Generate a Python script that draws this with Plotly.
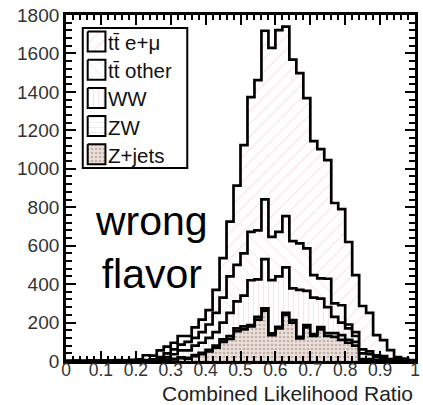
import numpy as np
import plotly.graph_objects as go

# Histogram binning: 50 bins of width 0.02 on [0, 1]
bin_edges = np.round(np.arange(0, 1.0001, 0.02), 2)

# Expected events per bin for each process (stacked bottom to top: Z+jets, ZW, WW, tt other, tt e+mu)
z_jets = [0, 0, 0, 0, 0, 0, 0, 0, 0, 0,
          0, 0, 0, 3, 5, 8, 15, 12, 25, 35,
          50, 70, 100, 115, 155, 165, 180, 215, 262, 135,
          170, 240, 200, 118, 175, 130, 165, 130, 125, 110,
          95, 80, 0, 0, 0, 0, 0, 0, 0, 0]
zw = [0, 0, 0, 0, 0, 0, 0, 0, 0, 0,
      0, 0, 0, 1, 2, 3, 4, 5, 6, 8,
      8, 10, 12, 15, 15, 15, 7, 15, 12, 9,
      8, 11, 13, 8, 12, 10, 12, 15, 20, 25,
      15, 20, 10, 10, 5, 4, 2, 2, 1, 0]
ww = [0, 0, 0, 0, 0, 0, 0, 0, 0, 0,
      0, 2, 4, 6, 13, 24, 36, 38, 49, 52,
      62, 70, 88, 120, 140, 160, 233, 195, 256, 277,
      262, 236, 165, 244, 178, 190, 148, 135, 85, 65,
      60, 30, 30, 25, 15, 11, 6, 3, 2, 1]
tt_other = [0, 0, 0, 0, 0, 0, 0, 0, 0, 0,
            0, 3, 4, 10, 20, 25, 30, 45, 40, 55,
            70, 100, 130, 190, 190, 220, 252, 255, 311, 225,
            232, 267, 246, 242, 221, 117, 105, 148, 70, 90,
            20, 20, 20, 15, 10, 10, 2, 3, 2, 1]
tt_emu = [0, 2, 0, 3, 2, 4, 2, 5, 4, 6,
          8, 25, 20, 35, 35, 35, 45, 30, 55, 65,
          75, 120, 205, 285, 412, 563, 701, 781, 877, 983,
          1049, 986, 944, 886, 782, 697, 672, 617, 522, 500,
          429, 297, 226, 200, 105, 84, 47, 12, 7, 3]

# Legend labels and fill styles, bottom of the stack first
processes = [
    ("Z+jets", z_jets, dict(shape=".", fgcolor="#9c847a", bgcolor="#ebdfda", size=4, solidity=0.35)),
    ("ZW", zw, dict(shape="-", fgcolor="#e4d8d8", bgcolor="white", size=5, solidity=0.2)),
    ("WW", ww, dict(shape="|", fgcolor="#e6d2d4", bgcolor="white", size=5, solidity=0.22)),
    ("tt\u0304 other", tt_other, dict(shape="\\", fgcolor="#ecd0d2", bgcolor="white", size=9, solidity=0.12)),
    ("tt\u0304 e+\u03bc", tt_emu, dict(shape="/", fgcolor="#f2bcc4", bgcolor="white", size=9, solidity=0.12)),
]

FONT = "Liberation Sans, Arial, Helvetica, sans-serif"
W, H = 423, 405
M_L, M_R, M_T, M_B = 66, 3, 15, 44

fig = go.Figure()

running = np.zeros(len(bin_edges) - 1)
for i, (name, counts, pattern) in enumerate(processes):
    running = running + np.asarray(counts, dtype=float)
    y_step = np.append(running, running[-1])
    fig.add_trace(go.Scatter(
        x=bin_edges, y=y_step, mode="lines", line_shape="hv",
        line=dict(color="black", width=2.7),
        fill="tozeroy" if i == 0 else "tonexty",
        fillcolor=pattern["bgcolor"],
        fillpattern=pattern,
        showlegend=False, hoverinfo="skip",
    ))

# Legend box drawn on an overlay axis measured in screen pixels
box_left, box_right, box_top, box_bottom = 83, 189, 28, 168
sw_left, sw_right, sw_h = 88, 106, 20
row0, row_step = 41.5, 28.2
fig.add_shape(type="rect", xref="x2", yref="y2", x0=box_left, x1=box_right,
              y0=box_top, y1=box_bottom, line=dict(color="black", width=2),
              fillcolor="white", layer="below")
for k, (name, counts, pattern) in enumerate(reversed(processes)):
    cy = row0 + k * row_step
    y0, y1 = cy - sw_h / 2, cy + sw_h / 2
    fig.add_trace(go.Scatter(
        x=[sw_left, sw_right, sw_right, sw_left, sw_left],
        y=[y0, y0, y1, y1, y0], xaxis="x2", yaxis="y2",
        mode="lines", fill="toself", fillcolor=pattern["bgcolor"], fillpattern=pattern,
        line=dict(color="black", width=2), showlegend=False, hoverinfo="skip",
    ))
    fig.add_annotation(x=sw_left + 19, y=cy + 1, xref="x2", yref="y2", text=name,
                       showarrow=False, xanchor="left", yanchor="middle",
                       font=dict(family=FONT, size=20.5, color="#111"))

fig.add_annotation(
    x=0.245, y=590, xref="x", yref="y", text="wrong<br>flavor", showarrow=False,
    font=dict(family=FONT, size=41, color="black"), align="center",
)
fig.add_annotation(
    x=1.0, y=-0.093, xref="paper", yref="paper", text="Combined Likelihood Ratio",
    showarrow=False, xanchor="right", yanchor="middle",
    font=dict(family=FONT, size=21, color="#222"),
)

axis_common = dict(
    showgrid=False, zeroline=False, showline=True, linecolor="black", linewidth=2.8,
    mirror="allticks", ticks="inside", ticklen=10, tickwidth=2, tickcolor="black",
)
fig.update_xaxes(range=[0, 1], tick0=0, dtick=0.1, ticklabelstandoff=-9,
                 tickfont=dict(family=FONT, size=17.5, color="#333"),
                 minor=dict(dtick=0.02, ticks="inside", ticklen=5, tickwidth=1.5, tickcolor="black"),
                 **axis_common)
fig.update_yaxes(range=[0, 1800], tick0=0, dtick=200,
                 tickfont=dict(family=FONT, size=19, color="#333"),
                 minor=dict(dtick=40, ticks="inside", ticklen=6, tickwidth=1.5, tickcolor="black"),
                 **axis_common)

fig.update_layout(
    width=W, height=H,
    margin=dict(l=M_L, r=M_R, t=M_T, b=M_B),
    paper_bgcolor="white", plot_bgcolor="white",
    showlegend=False,
    xaxis2=dict(overlaying="x", range=[M_L, W - M_R], visible=False, fixedrange=True),
    yaxis2=dict(overlaying="y", range=[H - M_B, M_T], visible=False, fixedrange=True),
)

fig.write_html("out.html")
